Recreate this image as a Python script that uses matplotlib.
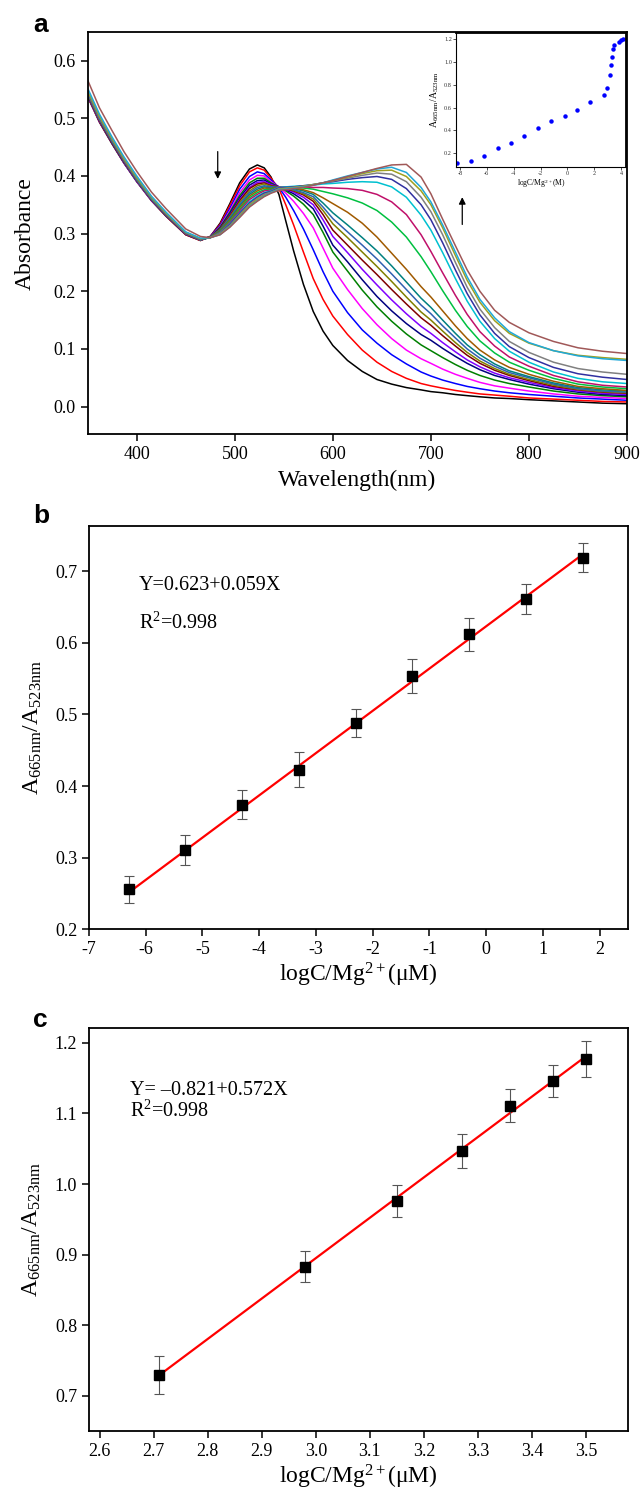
import numpy as np
import matplotlib
matplotlib.use("Agg")
import matplotlib.pyplot as plt
from matplotlib.ticker import FormatStrFormatter

plt.rcParams['font.family'] = ['Liberation Serif', 'DejaVu Serif']
plt.rcParams['mathtext.fontset'] = 'custom'
plt.rcParams['mathtext.rm'] = 'Liberation Serif'
plt.rcParams['mathtext.it'] = 'Liberation Serif:italic'
plt.rcParams['axes.unicode_minus'] = False

# ---- panel a: absorption spectra ----
wavelength = [350, 362, 375, 387, 400, 415, 430, 450, 465,
              475, 485, 495, 505, 515, 523, 530, 537,
              545, 552, 560, 570, 580, 590, 600, 615, 630, 645, 660, 675, 690,
              700, 712, 725, 737, 750, 765, 780, 800, 825, 850, 875, 900]

spectra = [
    [.537, .493, .455, .422, .390, .357, .330, .298, .288, .295, .318, .352, .388, .412, .419, .414, .398,
     .368, .322, .270, .212, .165, .131, .106, .080, .061, .047, .039, .033, .029, .026, .024, .021, .019, .017, .015, .014, .012, .010, .008, .006, .005],
    [.538, .494, .456, .423, .391, .358, .330, .298, .288, .295, .316, .349, .383, .407, .414, .410, .396,
     .378, .350, .315, .268, .222, .186, .157, .125, .098, .077, .061, .049, .040, .036, .032, .028, .025, .022, .020, .018, .015, .013, .011, .009, .008],
    [.539, .495, .457, .423, .391, .358, .331, .299, .289, .295, .314, .344, .377, .399, .407, .404, .393,
     .380, .363, .340, .308, .272, .234, .200, .163, .133, .110, .090, .074, .060, .053, .046, .040, .035, .031, .027, .024, .021, .018, .015, .013, .011],
    [.539, .495, .457, .423, .391, .358, .331, .299, .289, .294, .312, .340, .371, .393, .401, .400, .390,
     .381, .370, .356, .335, .310, .275, .240, .203, .170, .142, .118, .098, .083, .075, .065, .056, .049, .042, .036, .032, .027, .022, .018, .016, .014],
    [.540, .496, .457, .424, .392, .359, .331, .299, .289, .294, .311, .337, .366, .388, .396, .396, .388,
     .381, .374, .365, .351, .333, .302, .268, .235, .202, .173, .148, .126, .107, .097, .085, .073, .063, .054, .046, .040, .034, .027, .022, .019, .017],
    [.540, .496, .457, .424, .392, .359, .331, .299, .289, .294, .309, .334, .362, .384, .392, .393, .386,
     .381, .376, .369, .358, .343, .313, .280, .251, .220, .191, .166, .144, .125, .115, .101, .087, .075, .064, .054, .047, .039, .031, .025, .021, .019],
    [.541, .497, .458, .425, .393, .359, .332, .299, .289, .294, .308, .332, .359, .380, .389, .390, .385,
     .381, .377, .372, .363, .350, .324, .295, .267, .238, .211, .185, .161, .139, .127, .111, .095, .081, .069, .058, .050, .042, .033, .027, .023, .021],
    [.541, .497, .458, .425, .393, .359, .332, .299, .289, .294, .308, .331, .357, .378, .386, .388, .383,
     .381, .378, .374, .367, .356, .333, .306, .280, .254, .229, .203, .178, .154, .141, .123, .105, .089, .075, .063, .054, .045, .035, .029, .025, .023],
    [.542, .498, .459, .426, .393, .360, .332, .300, .289, .294, .307, .329, .354, .374, .383, .386, .382,
     .381, .379, .375, .369, .360, .340, .317, .293, .268, .243, .217, .190, .164, .150, .131, .111, .094, .079, .066, .056, .047, .037, .030, .026, .024],
    [.542, .498, .459, .426, .393, .360, .332, .300, .289, .294, .306, .327, .351, .371, .380, .383, .381,
     .381, .379, .376, .371, .364, .346, .326, .303, .280, .256, .230, .203, .176, .161, .140, .119, .100, .084, .070, .059, .050, .039, .031, .027, .025],
    [.543, .498, .460, .426, .394, .360, .333, .300, .290, .294, .305, .325, .348, .368, .377, .381, .379,
     .381, .380, .378, .374, .368, .353, .336, .315, .293, .270, .244, .216, .188, .172, .150, .127, .107, .090, .074, .062, .052, .041, .033, .029, .027],
    [.543, .498, .460, .426, .394, .360, .333, .300, .290, .294, .304, .323, .345, .365, .374, .379, .378,
     .381, .380, .379, .376, .371, .362, .352, .337, .318, .294, .266, .238, .208, .190, .166, .140, .118, .098, .081, .068, .056, .044, .035, .031, .028],
    [.544, .499, .461, .427, .395, .361, .333, .300, .290, .293, .303, .321, .342, .362, .371, .376, .377,
     .381, .381, .380, .379, .377, .373, .369, .362, .353, .340, .320, .294, .260, .234, .201, .167, .139, .114, .093, .077, .063, .049, .039, .034, .031],
    [.544, .499, .461, .427, .395, .361, .333, .300, .290, .293, .302, .319, .339, .359, .368, .374, .375,
     .381, .381, .381, .381, .380, .380, .379, .378, .375, .368, .355, .333, .298, .269, .232, .193, .160, .130, .105, .086, .070, .054, .043, .037, .034],
    [.545, .500, .461, .428, .395, .361, .334, .301, .290, .293, .301, .317, .336, .355, .365, .371, .374,
     .380, .381, .382, .383, .384, .386, .387, .389, .390, .389, .381, .363, .332, .306, .267, .222, .183, .148, .118, .096, .077, .060, .049, .043, .040],
    [.546, .501, .462, .428, .396, .362, .334, .301, .290, .293, .300, .316, .335, .353, .363, .370, .373,
     .379, .380, .381, .383, .385, .388, .390, .394, .397, .399, .394, .378, .350, .324, .284, .237, .196, .159, .127, .104, .085, .068, .057, .051, .047],
    [.547, .502, .463, .429, .397, .363, .335, .302, .291, .293, .300, .314, .333, .351, .361, .368, .372,
     .378, .379, .380, .382, .385, .388, .391, .396, .401, .405, .403, .390, .363, .338, .298, .250, .207, .169, .137, .113, .094, .077, .066, .060, .056],
    [.548, .503, .464, .430, .397, .363, .335, .302, .291, .293, .299, .313, .331, .349, .359, .366, .371,
     .377, .378, .380, .382, .385, .388, .392, .398, .404, .409, .410, .399, .374, .350, .310, .262, .219, .181, .149, .127, .110, .097, .089, .085, .082],
    [.552, .507, .467, .433, .400, .365, .337, .303, .292, .293, .298, .312, .329, .347, .357, .365, .371,
     .376, .377, .379, .381, .384, .388, .393, .400, .406, .412, .415, .406, .380, .355, .315, .268, .225, .186, .154, .130, .111, .097, .088, .083, .080],
    [.566, .518, .478, .442, .408, .372, .343, .308, .295, .293, .298, .311, .328, .346, .356, .364, .370,
     .375, .376, .378, .380, .384, .388, .392, .399, .406, .413, .419, .420, .398, .369, .325, .279, .237, .200, .167, .146, .128, .113, .102, .096, .092],
]

spectra_colors = ['#000000', '#ff0000', '#0000ff', '#ff00ff', '#008000', '#000080',
                  '#8000ff', '#800000', '#808000', '#3060b0', '#008080', '#a05a00',
                  '#00c040', '#c0106a', '#00c0d0', '#3030a0', '#808080', '#a0a020',
                  '#20a8d8', '#a05858']

# inset: ratio vs concentration
inset_logc = [-8.2, -7.2, -6.2, -5.2, -4.2, -3.2, -2.2, -1.2, -0.2, 0.7, 1.7,
              2.71, 2.98, 3.15, 3.27, 3.33, 3.40, 3.50, 3.85, 4.02, 4.17]
inset_ratio = [0.118, 0.130, 0.174, 0.244, 0.293, 0.355, 0.422, 0.480, 0.530, 0.579,
               0.649, 0.710, 0.768, 0.882, 0.976, 1.045, 1.110, 1.148, 1.174, 1.188, 1.203]

# ---- panel b ----
b_logc = [-6.3, -5.3, -4.3, -3.3, -2.3, -1.3, -0.3, 0.7, 1.7]
b_ratio = [0.256, 0.311, 0.374, 0.423, 0.488, 0.554, 0.612, 0.661, 0.719]
b_err = [0.019, 0.021, 0.020, 0.025, 0.020, 0.024, 0.023, 0.021, 0.020]
b_fit = (0.623, 0.059)

# ---- panel c ----
c_logc = [2.71, 2.98, 3.15, 3.27, 3.36, 3.44, 3.50]
c_ratio = [0.730, 0.883, 0.976, 1.047, 1.111, 1.146, 1.177]
c_err = [0.027, 0.022, 0.022, 0.024, 0.023, 0.022, 0.026]
c_fit = (-0.821, 0.572)

fig = plt.figure(figsize=(6.43, 14.96), dpi=100)

tick_fs = 13
label_fs = 17
ratio_label = r'A$_{\mathrm{665nm}}$/A$_{\mathrm{523nm}}$'


def style_axes(ax):
    ax.tick_params(direction='out', length=5, width=1.1, labelsize=tick_fs,
                   top=False, right=False)
    for s in ax.spines.values():
        s.set_linewidth(1.3)


# panel a
ax_a = fig.add_axes([0.1364, 0.7097, 0.8387, 0.2687])
for vals, col in zip(spectra, spectra_colors):
    ax_a.plot(wavelength, vals, color=col, lw=1.1)
ax_a.set_xlim(350, 900)
ax_a.set_ylim(-0.048, 0.649)
ax_a.set_xticks([400, 500, 600, 700, 800, 900])
ax_a.set_yticks([0.0, 0.1, 0.2, 0.3, 0.4, 0.5, 0.6])
ax_a.yaxis.set_major_formatter(FormatStrFormatter('%.1f'))
ax_a.set_xlabel('Wavelength(nm)', fontsize=label_fs, labelpad=5)
ax_a.set_ylabel('Absorbance', fontsize=label_fs, labelpad=13)
style_axes(ax_a)
ax_a.annotate('', xy=(482.6, 0.390), xytext=(482.6, 0.447),
              arrowprops=dict(arrowstyle='-|>', color='black', lw=0.9,
                              mutation_scale=10))
ax_a.annotate('', xy=(732, 0.368), xytext=(732, 0.311),
              arrowprops=dict(arrowstyle='-|>', color='black', lw=0.9,
                              mutation_scale=10))

# inset
ax_in = fig.add_axes([0.7092, 0.8886, 0.2644, 0.0892])
ax_in.plot(inset_logc, inset_ratio, 'o', color='#0000ff', ms=2.2)
ax_in.set_xlim(-8.3, 4.37)
ax_in.set_ylim(0.083, 1.25)
ax_in.set_xticks([-8, -6, -4, -2, 0, 2, 4])
ax_in.set_yticks([0.2, 0.4, 0.6, 0.8, 1.0, 1.2])
ax_in.yaxis.set_major_formatter(FormatStrFormatter('%.1f'))
ax_in.tick_params(direction='out', length=2, width=0.6, labelsize=4.5,
                  pad=1, colors='#333333')
for s in ax_in.spines.values():
    s.set_linewidth(0.8)
ax_in.spines['top'].set_linewidth(1.3)
ax_in.spines['right'].set_linewidth(1.3)
ax_in.set_xlabel('logC/Mg$^{2+}$(M)', fontsize=5.5, labelpad=1)
ax_in.set_ylabel(ratio_label, fontsize=7, labelpad=2)

# panel b
ax_b = fig.add_axes([0.1384, 0.3788, 0.8383, 0.2696])
xb = np.array([b_logc[0], b_logc[-1]])
ax_b.plot(xb, b_fit[0] + b_fit[1] * xb, color='#ff0000', lw=1.6, zorder=2)
ax_b.errorbar(b_logc, b_ratio, yerr=b_err, fmt='s', color='black', ms=6.5,
              ecolor='#555555', elinewidth=0.8, capsize=3.5, capthick=0.8, zorder=3)
ax_b.set_xlim(-7, 2.5)
ax_b.set_ylim(0.2, 0.763)
ax_b.set_xticks(range(-7, 3))
ax_b.set_yticks([0.2, 0.3, 0.4, 0.5, 0.6, 0.7])
ax_b.yaxis.set_major_formatter(FormatStrFormatter('%.1f'))
ax_b.set_xlabel('logC/Mg$^{2+}$(μM)', fontsize=label_fs, labelpad=2)
ax_b.set_ylabel(ratio_label, fontsize=label_fs, labelpad=8)
style_axes(ax_b)
ax_b.text(-6.12, 0.68, 'Y=0.623+0.059X', fontsize=14.5, ha='left', va='center')
ax_b.text(-6.12, 0.627, 'R$^{2}$=0.998', fontsize=14.5, ha='left', va='center')

# panel c
ax_c = fig.add_axes([0.1384, 0.0434, 0.8383, 0.2694])
xc = np.array([c_logc[0], c_logc[-1]])
ax_c.plot(xc, c_fit[0] + c_fit[1] * xc, color='#ff0000', lw=1.6, zorder=2)
ax_c.errorbar(c_logc, c_ratio, yerr=c_err, fmt='s', color='black', ms=6.5,
              ecolor='#555555', elinewidth=0.8, capsize=3.5, capthick=0.8, zorder=3)
ax_c.set_xlim(2.58, 3.578)
ax_c.set_ylim(0.65, 1.221)
ax_c.set_xticks([2.6, 2.7, 2.8, 2.9, 3.0, 3.1, 3.2, 3.3, 3.4, 3.5])
ax_c.set_yticks([0.7, 0.8, 0.9, 1.0, 1.1, 1.2])
ax_c.xaxis.set_major_formatter(FormatStrFormatter('%.1f'))
ax_c.yaxis.set_major_formatter(FormatStrFormatter('%.1f'))
ax_c.set_xlabel('logC/Mg$^{2+}$(μM)', fontsize=label_fs, labelpad=2)
ax_c.set_ylabel(ratio_label, fontsize=label_fs, labelpad=8)
style_axes(ax_c)
ax_c.text(2.656, 1.133, 'Y= \u20130.821+0.572X', fontsize=14.5, ha='left', va='center')
ax_c.text(2.656, 1.103, 'R$^{2}$=0.998', fontsize=14.5, ha='left', va='center')

# panel letters
for letter, ypix in [('a', 32), ('b', 523), ('c', 1027)]:
    fig.text(33 / 643, 1 - ypix / 1496, letter, fontsize=19, fontweight='bold',
             family='Liberation Sans', ha='left', va='baseline')

fig.savefig('out.png', dpi=100)
